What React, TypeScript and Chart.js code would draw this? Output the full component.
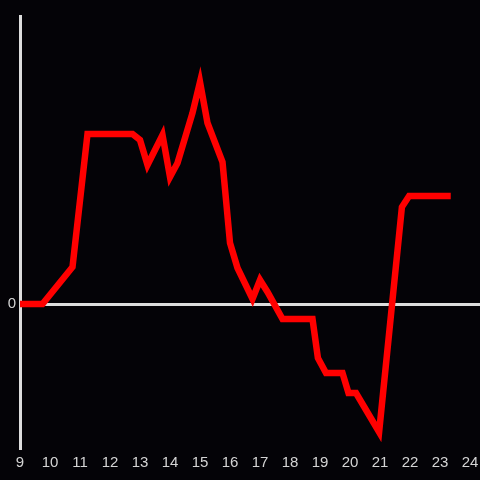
import React, { useEffect, useRef } from "react";
import { Chart, registerables } from "chart.js";

Chart.register(...registerables);

const xValues = [9, 9.75, 10.75, 11.25, 11.5, 12.75, 13, 13.25, 13.75, 14, 14.25, 14.75, 15, 15.25, 15.75, 16, 16.25, 16.75, 17, 17.25, 17.75, 18.75, 18.93, 19.2, 19.75, 19.95, 20.2, 20.97, 21.73, 21.97, 23.25];
const yValues = [0, 0, 37, 170, 170, 170, 164, 139, 169, 127, 141, 191, 222, 181, 142, 61, 36, 5, 24, 12, -15, -15, -54, -69, -69, -89, -89, -128, 97, 108, 108];
const xTicks = [9, 10, 11, 12, 13, 14, 15, 16, 17, 18, 19, 20, 21, 22, 23, 24];
const yTicks = [0];

export default function App() {
  const ref = useRef<HTMLCanvasElement | null>(null);
  useEffect(() => {
    if (!ref.current) return;
    const chart = new Chart(ref.current, {
      type: "line",
      data: {
        datasets: [
          {
            data: xValues.map((x, i) => ({ x, y: yValues[i] })),
            borderColor: "#ff0000",
            borderWidth: 6.5,
            borderCapStyle: "square",
            pointRadius: 0,
            tension: 0,
            fill: false,
          },
        ],
      },
      options: {
        animation: false,
        responsive: false,
        maintainAspectRatio: false,
        layout: { padding: { top: 16, right: 0, left: 0, bottom: 0 } },
        plugins: { legend: { display: false }, tooltip: { enabled: false } },
        scales: {
          x: {
            type: "linear",
            min: 9,
            max: 24.333,
            border: { display: false },
            grid: { display: false, drawTicks: false },
            afterBuildTicks: (s: any) => {
              s.ticks = xTicks.map((v) => ({ value: v }));
            },
            afterFit: (s: any) => {
              s.height = 32;
              s.paddingLeft = 0;
              s.paddingRight = 0;
            },
            ticks: {
              color: "#d4d4d4",
              font: { family: "Liberation Sans", size: 15 },
              padding: 6,
              maxRotation: 0,
              autoSkip: false,
            },
          },
          y: {
            type: "linear",
            min: -144,
            max: 288,
            border: { display: true, color: "#dddddd", width: 3 },
            grid: { color: "#dddddd", lineWidth: 3, drawTicks: false },
            afterBuildTicks: (s: any) => {
              s.ticks = yTicks.map((v) => ({ value: v }));
            },
            afterFit: (s: any) => {
              s.width = 20;
            },
            ticks: {
              color: "#d4d4d4",
              font: { family: "Liberation Sans", size: 15 },
              padding: 4,
            },
          },
        },
      },
      plugins: [
        {
          id: "bg",
          beforeDraw: (c: any) => {
            const ctx = c.ctx;
            ctx.save();
            ctx.fillStyle = "#040307";
            ctx.fillRect(0, 0, c.width, c.height);
            ctx.restore();
          },
        },
      ],
    } as any);
    return () => chart.destroy();
  }, []);
  return (
    <div style={{ position: "fixed", left: 0, top: 0, width: 480, height: 480, background: "#040307" }}>
      <canvas ref={ref} width={480} height={480} style={{ width: 480, height: 480 }} />
    </div>
  );
}
